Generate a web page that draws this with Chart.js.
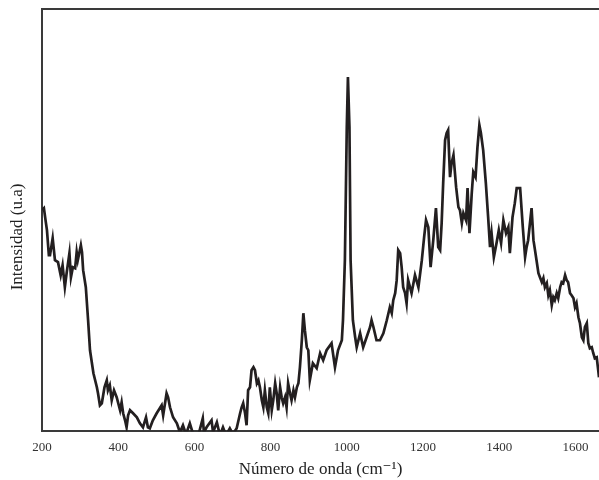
<!DOCTYPE html>
<html>
<head>
<meta charset="utf-8">
<script src="https://cdn.jsdelivr.net/npm/chart.js@4/dist/chart.umd.min.js"></script>
<style>
  html, body { margin: 0; padding: 0; background: #ffffff; }
  #wrap { width: 599px; height: 480px; }
</style>
</head>
<body>
<div id="wrap"><canvas id="raman" width="599" height="480"></canvas></div>
<script>
// Raman spectrum: wavenumber (cm-1) and intensity (arbitrary units)
const wavenumber = [
  200, 205, 210, 213, 218, 221, 228, 234, 242, 249, 254, 260, 265, 272, 276, 281, 287, 291, 294, 302,
  305, 308, 315, 321, 326, 335, 344, 347, 352, 357, 364, 370, 373, 378, 383, 389, 396, 405, 409, 413,
  418, 422, 426, 431, 439, 449, 457, 465, 473, 478, 483, 491, 501, 514, 518, 527, 531, 536, 544, 554,
  562, 570, 578, 588, 596, 607, 622, 625, 632, 645, 649, 659, 667, 675, 683, 693, 701,
  711, 720, 724, 728, 733, 737, 741, 746, 750, 755, 759, 764, 768, 772, 777, 781, 785, 790, 794, 798,
  803, 807, 812, 816, 820, 825, 829, 833, 838, 842, 846, 851, 855, 860, 864, 869, 873, 877, 882, 886,
  890, 895, 899, 903, 911, 921, 930, 938, 947, 960, 969, 977, 987, 990,
  995, 1000, 1003, 1007, 1010, 1016, 1022, 1026, 1035, 1043, 1052, 1061, 1065, 1070, 1078, 1087, 1096, 1105, 1113, 1118,
  1122, 1127, 1131, 1135, 1140, 1144, 1148, 1153, 1157, 1161, 1170, 1179, 1188, 1197, 1203, 1208, 1214, 1220, 1227, 1234,
  1240, 1245, 1249, 1253, 1258, 1262, 1266, 1271, 1275, 1280, 1287, 1293, 1297, 1302, 1306, 1313, 1317, 1322, 1328, 1332,
  1338, 1343, 1348, 1352, 1358, 1365, 1371, 1376, 1380, 1386, 1393, 1399, 1405, 1411, 1418, 1424, 1428, 1435, 1441, 1446,
  1455,
  1462, 1468, 1472, 1476, 1485, 1490, 1494, 1498, 1503, 1507, 1512, 1516, 1520, 1525, 1529, 1533, 1538, 1542, 1546, 1551,
  1555, 1560, 1564, 1568, 1573, 1577, 1581, 1586, 1590, 1595, 1599, 1603, 1608, 1612, 1617, 1621, 1625, 1630, 1634, 1638,
  1643, 1647, 1651, 1656, 1660, 1662, 1668
];
const intensity = [
  221, 223, 209, 201, 176, 176, 193, 171, 169, 156, 166, 144, 159, 178, 154, 164, 163, 179, 171, 186,
  179, 161, 144, 111, 81, 58, 44, 38, 26, 28, 44, 51, 41, 46, 31, 41, 34, 21, 29, 18,
  11, 4, 16, 21, 18, 14, 8, 4, 14, 4, 3, 11, 18, 26, 16, 38, 34, 24, 14, 8,
  -1, 6, -3, 8, -2, -9, 13, -1, 4, 11, -1, 9, -4, 4, -4, 3, -3,
  3, 18, 24, 28, 18, 6, 41, 44, 61, 64, 61, 48, 51, 44, 31, 24, 41, 24, 18, 44,
  21, 31, 48, 38, 21, 44, 34, 28, 34, 24, 48, 38, 31, 41, 34, 44, 48, 64, 91, 118,
  101, 84, 81, 51, 68, 63, 78, 71, 81, 88, 64, 81, 91, 111,
  171, 304, 354, 304, 171, 111, 94, 84, 98, 84, 94, 104, 111, 104, 91, 91, 98, 111, 124, 118,
  131, 138, 151, 181, 178, 164, 144, 138, 128, 151, 138, 156, 144, 171, 194, 211, 204, 164, 191, 223,
  184, 181, 208, 248, 291, 298, 301, 254, 268, 276, 244, 224, 221, 208, 218, 211, 243, 198, 238, 259,
  254, 284, 306, 298, 281, 248, 214, 184, 198, 174, 188, 201, 188, 211, 198, 204, 178, 214, 228, 243,
  243,
  204, 174, 184, 191, 223, 191, 181, 171, 158, 154, 149, 153, 144, 148, 136, 141, 126, 134, 131, 138,
  133, 144, 149, 148, 156, 151, 149, 138, 136, 133, 124, 128, 114, 108, 94, 91, 104, 108, 88, 83,
  84, 78, 73, 74, 61, 54, 58
];
const xTicks = [200, 400, 600, 800, 1000, 1200, 1400, 1600];
const xTitle = 'Número de onda (cm⁻¹)';
const yTitle = 'Intensidad (u.a)';

const points = wavenumber.map((w, i) => ({ x: w, y: intensity[i] }));
const serif = '"Liberation Serif", "DejaVu Serif", serif';

// top frame line and the rotated intensity label
const frameAndLabel = {
  id: 'frameAndLabel',
  afterDraw(chart) {
    const { ctx, chartArea } = chart;
    ctx.save();
    ctx.strokeStyle = '#3a3a3a';
    ctx.lineWidth = 2;
    ctx.beginPath();
    ctx.moveTo(chartArea.left - 1, chartArea.top);
    ctx.lineTo(chart.width, chartArea.top);
    ctx.stroke();

    ctx.translate(18, 237);
    ctx.rotate(-Math.PI / 2);
    ctx.fillStyle = '#222222';
    ctx.font = '17px ' + serif;
    ctx.textAlign = 'center';
    ctx.textBaseline = 'middle';
    ctx.fillText(yTitle, 0, 0);
    ctx.restore();
  }
};

new Chart(document.getElementById('raman'), {
  type: 'line',
  data: {
    datasets: [{
      data: points,
      borderColor: '#231f20',
      borderWidth: 2.7,
      pointRadius: 0,
      tension: 0,
      fill: false
    }]
  },
  options: {
    responsive: false,
    devicePixelRatio: 1,
    animation: false,
    layout: { padding: { left: 42, right: 0, top: 9, bottom: 0 } },
    plugins: { legend: { display: false }, tooltip: { enabled: false } },
    scales: {
      x: {
        type: 'linear',
        min: 200,
        max: 1662,
        afterBuildTicks(scale) {
          scale.ticks = xTicks.map(v => ({ value: v }));
        },
        grid: { display: false, drawTicks: false },
        border: { display: true, color: '#3a3a3a', width: 2 },
        ticks: {
          padding: 9,
          maxRotation: 0,
          color: '#333333',
          callback: v => String(v),
          font: { family: serif, size: 13, lineHeight: 1.1 }
        },
        title: {
          display: true,
          text: xTitle,
          color: '#222222',
          padding: { top: -4, bottom: 0 },
          font: { family: serif, size: 17 }
        }
      },
      y: {
        type: 'linear',
        min: 0,
        max: 422,
        grid: { display: false, drawTicks: false },
        border: { display: true, color: '#3a3a3a', width: 2 },
        ticks: { display: false }
      }
    }
  },
  plugins: [frameAndLabel]
});
</script>
</body>
</html>
